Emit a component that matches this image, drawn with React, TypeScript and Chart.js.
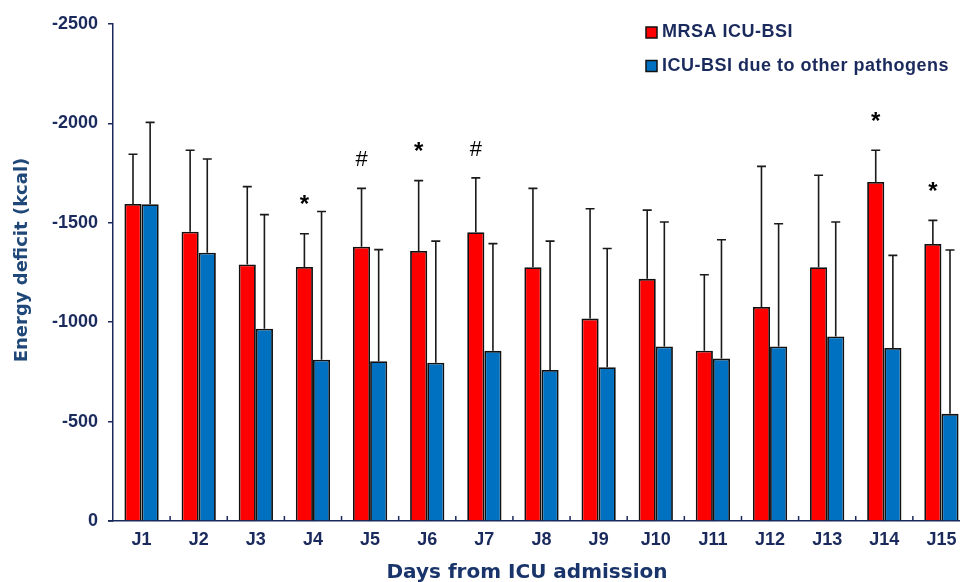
import React, { useEffect, useRef } from "react";
import { Chart, registerables } from "chart.js";

Chart.register(...registerables);

// ---- data ----
const days = ["J1", "J2", "J3", "J4", "J5", "J6", "J7", "J8", "J9", "J10", "J11", "J12", "J13", "J14", "J15"];
const mrsaMean = [-1595, -1455, -1290, -1278, -1380, -1358, -1453, -1277, -1018, -1218, -857, -1077, -1277, -1705, -1393];
const mrsaSD = [250, 410, 392, 167, 293, 354, 273, 396, 553, 346, 382, 707, 462, 160, 119];
const otherMean = [-1593, -1349, -967, -811, -804, -796, -856, -760, -774, -878, -817, -878, -928, -870, -539];
const otherSD = [412, 472, 574, 746, 561, 612, 539, 648, 597, 626, 598, 617, 576, 466, 824];
const marks = ["", "", "", "*", "#", "*", "#", "", "", "", "", "", "", "*", "*"];
const seriesLabels = ["MRSA ICU-BSI", "ICU-BSI due to other pathogens"];
const yTickValues = [0, -500, -1000, -1500, -2000, -2500];
const xTitle = "Days from ICU admission";
const yTitle = "Energy deficit (kcal)";

const NAVY = "#1b2a5c";
const sdArrays = [mrsaSD, otherSD];

const errorBars = {
  id: "errorBars",
  afterDatasetsDraw(chart: any) {
    const { ctx } = chart;
    const y = chart.scales.y;
    chart.data.datasets.forEach((ds: any, di: number) => {
      const meta = chart.getDatasetMeta(di);
      meta.data.forEach((bar: any, i: number) => {
        const x = bar.x;
        const top = y.getPixelForValue(ds.data[i] - sdArrays[di][i]);
        ctx.save();
        ctx.strokeStyle = "#1a1a1a";
        ctx.lineWidth = 1.6;
        ctx.beginPath();
        ctx.moveTo(x, bar.y);
        ctx.lineTo(x, top);
        ctx.moveTo(x - 4.5, top);
        ctx.lineTo(x + 4.5, top);
        ctx.stroke();
        ctx.restore();
      });
    });
  },
};

const annotations = {
  id: "annotations",
  afterDatasetsDraw(chart: any) {
    const { ctx } = chart;
    const y = chart.scales.y;
    const meta = chart.getDatasetMeta(0);
    marks.forEach((m, i) => {
      if (!m) return;
      const bar = meta.data[i];
      const top = y.getPixelForValue(mrsaMean[i] - mrsaSD[i]);
      ctx.save();
      ctx.fillStyle = "#000";
      ctx.textAlign = "center";
      ctx.textBaseline = "middle";
      if (m === "*") {
        ctx.font = "bold 24px 'Liberation Sans', Arial, sans-serif";
      } else {
        ctx.font = "22px 'Liberation Sans', Arial, sans-serif";
      }
      ctx.fillText(m, bar.x, top - 28);
      ctx.restore();
    });
  },
};

const xTicksInside = {
  id: "xTicksInside",
  afterDraw(chart: any) {
    const { ctx } = chart;
    const xs = chart.scales.x;
    const yb = chart.chartArea.bottom;
    ctx.save();
    ctx.strokeStyle = NAVY;
    ctx.lineWidth = 1.5;
    ctx.beginPath();
    for (let i = 1; i < days.length; i++) {
      const bx = (xs.getPixelForValue(i - 1) + xs.getPixelForValue(i)) / 2;
      ctx.moveTo(bx, yb);
      ctx.lineTo(bx, yb - 5);
    }
    ctx.moveTo(chart.chartArea.left - 5, yb);
    ctx.lineTo(chart.chartArea.left, yb);
    ctx.stroke();
    ctx.restore();
  },
};

const axisTitles = {
  id: "axisTitles",
  afterDraw(chart: any) {
    const { ctx } = chart;
    ctx.save();
    ctx.textAlign = "center";
    ctx.textBaseline = "middle";
    ctx.font = "bold 18px 'DejaVu Sans', sans-serif";
    ctx.fillStyle = "#1f4878";
    ctx.translate(22, 260);
    ctx.rotate(-Math.PI / 2);
    ctx.fillText(yTitle, 0, 0);
    ctx.restore();

    ctx.save();
    ctx.textAlign = "center";
    ctx.textBaseline = "middle";
    ctx.font = "bold 20px 'DejaVu Sans', sans-serif";
    ctx.fillStyle = "#19346a";
    ctx.fillText(xTitle, 527, 572.5);
    ctx.restore();
  },
};

const customLegend = {
  id: "customLegend",
  afterDraw(chart: any) {
    const { ctx } = chart;
    chart.data.datasets.forEach((ds: any, i: number) => {
      const yc = 32.5 + i * 33.5;
      ctx.save();
      ctx.fillStyle = ds.backgroundColor;
      ctx.fillRect(646, yc - 5.5, 11, 11);
      ctx.strokeStyle = "#111";
      ctx.lineWidth = 1.5;
      ctx.strokeRect(646, yc - 5.5, 11, 11);
      ctx.font = "bold 18px 'Liberation Sans', Arial, sans-serif";
      try {
        (ctx as any).letterSpacing = "0.5px";
      } catch (e) {}
      ctx.fillStyle = NAVY;
      ctx.textBaseline = "middle";
      ctx.textAlign = "left";
      ctx.fillText(ds.label, 662, yc);
      ctx.restore();
    });
  },
};

export default function App() {
  const ref = useRef<HTMLCanvasElement | null>(null);

  useEffect(() => {
    if (!ref.current) return;
    const tickFont = { family: "'Liberation Sans', Arial, sans-serif", size: 18, weight: "bold" as const };
    const chart = new Chart(ref.current, {
      type: "bar",
      data: {
        labels: days,
        datasets: [
          {
            label: seriesLabels[0],
            data: mrsaMean,
            backgroundColor: "#ff0000",
            borderColor: "#111",
            borderWidth: 1.8,
          },
          {
            label: seriesLabels[1],
            data: otherMean,
            backgroundColor: "#0070c0",
            borderColor: "#111",
            borderWidth: 1.8,
          },
        ],
      },
      options: {
        animation: false,
        responsive: true,
        maintainAspectRatio: false,
        layout: { padding: { top: 24, right: 5, left: 0, bottom: 0 } },
        plugins: {
          legend: { display: false },
          tooltip: { enabled: false },
        },
        datasets: {
          bar: { categoryPercentage: 0.6, barPercentage: 1.0 },
        },
        scales: {
          x: {
            offset: true,
            grid: { display: false, drawTicks: false },
            border: { display: true, color: NAVY, width: 1.5 },
            ticks: { color: NAVY, font: tickFont, padding: 8 },
            title: { display: false, text: xTitle },
            afterFit: (s: any) => {
              s.height = 61;
            },
          },
          y: {
            reverse: true,
            min: -2500,
            max: 0,
            afterBuildTicks: (s: any) => {
              s.ticks = yTickValues.map((v) => ({ value: v }));
            },
            grid: { display: true, drawOnChartArea: false, drawTicks: true, tickLength: 5, color: NAVY, lineWidth: 1.5 },
            border: { display: true, color: NAVY, width: 1.5 },
            ticks: {
              color: NAVY,
              font: tickFont,
              padding: 10,
              callback: (v: any) => String(v),
            },
            title: { display: false, text: yTitle },
            afterFit: (s: any) => {
              s.width = 113;
            },
          },
        },
      },
      plugins: [errorBars, annotations, xTicksInside, axisTitles, customLegend],
    });
    return () => chart.destroy();
  }, []);

  return (
    <div
      style={{
        position: "fixed",
        left: 0,
        top: 0,
        width: 960,
        height: 582,
        overflow: "hidden",
        background: "#fff",
      }}
    >
      <div style={{ position: "relative", width: 975, height: 582 }}>
        <canvas ref={ref} />
      </div>
    </div>
  );
}
